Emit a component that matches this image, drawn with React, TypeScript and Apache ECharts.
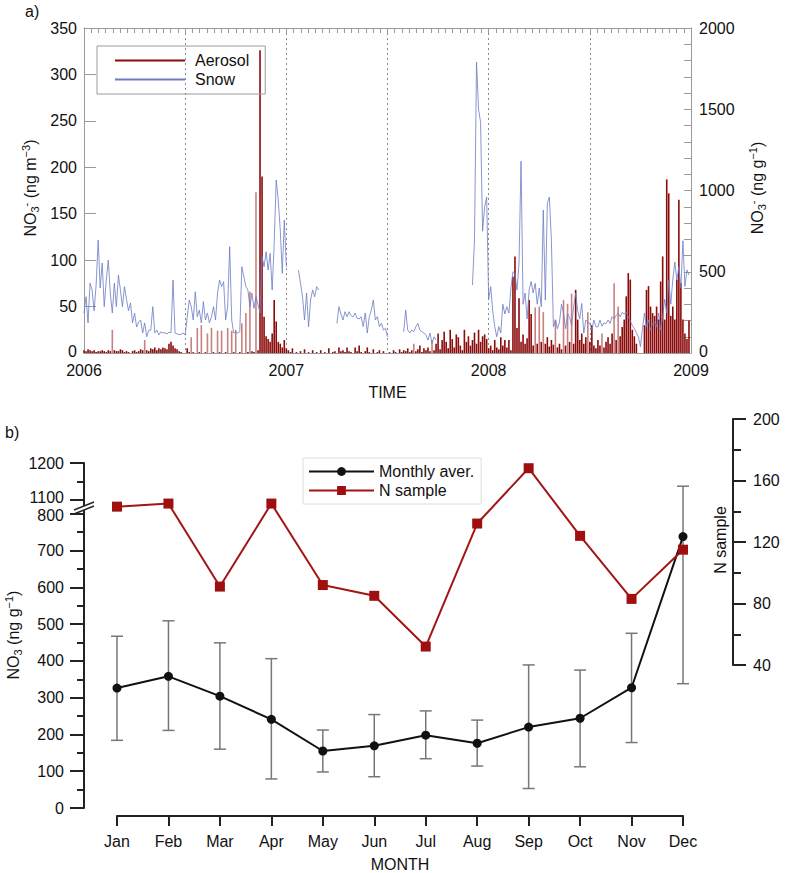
import { useEffect, useRef } from 'react'
import * as echarts from 'echarts'

// panel a: one value every 0.01 year, starting at Jan 1 of each year
const snow2006 = [
  246, 346, 185, 430, 388, 260, 420, 695, 400, 554,
  285, 449, 572, 369, 246, 430, 285, 480, 388, 285,
  408, 330, 260, 308, 185, 246, 160, 190, 203, 123,
  185, 100, 140, 141, 285, 123, 141, 111, 131, 123,
  125, 117, 128, 125, 449, 123, 117, 113, 115, 123,
  111, 220, 326, 285, 203, 377, 223, 264, 185, 316,
  203, 246, 185, 223, 285, 203, 369, 449, 408, 439,
  203, 285, 654, 203, 123, 128, 123, 131, 531, 470,
  408, 388, 285, 369, 275, 346, 300, 246, 593, 531,
  623, 511, 613, 388, 675, 1065, 942, 757, 490, 818,
]
const snow2007 = [
  530, null, null, null, null, null, 511, 429, 346, 203,
  369, 162, 326, 388, 346, 408, 388, null, null, null,
  null, null, null, null, null, 182, 285, 240, 203, 254,
  223, 254, 230, 223, 246, 213, 210, 223, 162, 246,
  123, 223, 264, 326, 203, 223, 162, 182, 141, 152,
  100, null, null, null, null, null, null, null, 130, 264,
  141, 123, 141, 131, 162, 182, 141, 131, 123, 111,
  80, 123, 60, 100, 80, null, null, null, null, null,
  null, null, null, null, null, null, null, null, null, null,
  null, null, 418, 700, 1790, 1500, 1420, 750, 900, 960,
]
const snow2008 = [
  330, 408, 260, 162, 100, 162, 123, 300, 240, 285,
  246, 400, 500, 490, 388, 554, 1180, 300, 369, 210,
  388, 440, 369, 429, 300, 400, 285, 880, 326, 921,
  960, 695, 162, 203, 150, 190, 300, 246, 150, 240,
  220, 170, 285, 369, 260, 210, 305, 123, 203, 190,
  182, 141, 203, 162, 160, 203, 165, 185, 180, 203,
  182, 223, 210, 230, 244, 223, 250, 240, 254, 223,
  195, 170, 150, 125, 100, 40, 150, 246, 162, 203,
  141, 182, 190, 162, 246, 141, 230, 330, 246, 449,
  300, 450, 560, 449, 531, 400, 690, 410, 511, 480,
]
const aerosol2006 = [
  3, 2, 4, 3, 2, 3, 1, 2, 2, 3,
  2, 1, 3, 2, 25, 3, 2, 2, 4, 3,
  1, 2, 1, 0, 2, 3, 1, 2, 4, 3,
  14, 3, 2, 5, 4, 6, 3, 5, 4, 6,
  5, 4, 10, 12, 8, 5, 4, 2, 1, 0,
  0, 5, 1, 17, 1, 0, 27, 1, 30, 0,
  1, 21, 0, 27, 1, 0, 24, 1, 24, 0,
  1, 27, 0, 24, 1, 25, 0, 1, 32, 0,
  43, 1, 66, 2, 1, 173, 3, 326, 190, 39,
  18, 15, 12, 21, 57, 34, 12, 10, 6, 14,
]
const aerosol2007 = [
  5, 3, 1, 5, 0, 1, 0, 2, 0, 4,
  0, 1, 0, 3, 0, 1, 0, 3, 0, 1,
  0, 5, 0, 1, 2, 0, 6, 2, 3, 1,
  6, 2, 1, 0, 6, 2, 8, 1, 0, 2,
  6, 1, 0, 4, 0, 1, 3, 0, 2, 0,
  0, 1, 0, 3, 1, 0, 4, 1, 3, 2,
  5, 1, 3, 10, 2, 4, 8, 1, 5, 3,
  6, 2, 14, 3, 10, 21, 4, 14, 23, 12,
  5, 25, 15, 6, 20, 17, 8, 3, 25, 12,
  18, 8, 14, 22, 10, 25, 12, 18, 20, 15,
]
const aerosol2008 = [
  5, 8, 3, 14, 6, 4, 17, 8, 14, 6,
  14, 3, 82, 104, 27, 59, 12, 20, 10, 16,
  57, 42, 8, 49, 10, 50, 12, 44, 10, 17,
  7, 14, 9, 36, 6, 10, 4, 57, 8, 53,
  12, 64, 10, 68, 36, 14, 21, 10, 17, 44,
  12, 30, 8, 5, 14, 8, 21, 6, 12, 17,
  10, 21, 75, 14, 50, 18, 28, 36, 61, 86,
  79, 25, 18, 10, 0, 0, 0, 30, 68, 72,
  50, 43, 40, 50, 36, 77, 104, 36, 187, 172,
  40, 50, 36, 79, 165, 75, 36, 21, 15, 35,
]

// panel b
const months = ['Jan', 'Feb', 'Mar', 'Apr', 'May', 'Jun', 'Jul', 'Aug', 'Sep', 'Oct', 'Nov', 'Dec']
const monthlyAvg = [326, 358, 304, 241, 155, 169, 198, 176, 220, 244, 327, 738]
const errLow = [184, 211, 160, 79, 98, 85, 134, 114, 53, 112, 178, 338]
const errHigh = [467, 509, 449, 406, 212, 254, 264, 239, 389, 375, 475, 1137]
const nSample = [143, 145, 91, 145, 92, 85, 52, 132, 168, 124, 83, 115]

const bTicks = [0, 100, 200, 300, 400, 500, 600, 700, 800, 1100, 1200]
const bMinorTicks = [50, 150, 250, 350, 450, 550, 650, 750, 1150]

// broken axis: 800..1100 squeezed into a small gap
const BREAK_FROM = 800
const BREAK_TO = 1100
const BREAK_GAP = 38
const toAxis = (v: number) => (v <= BREAK_FROM ? v : v - (BREAK_TO - BREAK_FROM) + BREAK_GAP)

const FONT = "'Liberation Sans', Arial, Helvetica, sans-serif"
const INK = '#111'
const FRAME = '#9a9a9a'
const AERO = '#8b0a0a'
const AERO_LIGHT = '#c98080'
const SNOW = '#6b7bc4'

export default function App() {
  const chartRef = useRef<HTMLDivElement>(null)

  useEffect(() => {
    if (!chartRef.current) return
    const chart = echarts.init(chartRef.current, null, { renderer: 'svg' })

    const aerosol = [...aerosol2006, ...aerosol2007, ...aerosol2008]
    const aerosolData = aerosol.map((v, i) => [2006 + i / 100, v])
    const snowData = [
      ...snow2006.map((v, i) => [2006 + i / 100, v ?? '-']),
      ...snow2007.map((v, i) => [2007 + i / 100, v ?? '-']),
      ...snow2008.map((v, i) => [2008 + i / 100, v ?? '-']),
    ]

    const bTickPos = bTicks.map(toAxis)
    const bMinorPos = bMinorTicks.map(toAxis)
    const errData = months.map((_, i) => [i, toAxis(errLow[i]), toAxis(errHigh[i])])

    const sub = { fontSize: 11, lineHeight: 12, verticalAlign: 'bottom', fill: INK, fontFamily: FONT }
    const sup = { fontSize: 11, lineHeight: 12, verticalAlign: 'top', fill: INK, fontFamily: FONT }
    const n = { fontSize: 16, lineHeight: 20, fill: INK, fontFamily: FONT }
    const rich = { n, s: sub, p: sup }

    const option: echarts.EChartsOption = {
      animation: false,
      backgroundColor: '#fff',
      textStyle: { fontFamily: FONT, color: INK },
      legend: [
        {
          data: [
            { name: 'Aerosol', icon: 'rect', itemStyle: { color: AERO } },
            { name: 'Snow', icon: 'rect', itemStyle: { color: SNOW } },
          ],
          orient: 'vertical',
          left: 97,
          top: 46,
          padding: [5, 16, 5, 18],
          itemGap: 0,
          itemWidth: 70,
          itemHeight: 2,
          borderColor: FRAME,
          borderWidth: 1,
          textStyle: { fontSize: 16, lineHeight: 19, color: INK, padding: [0, 0, 0, 5] },
          selectedMode: false,
        },
        {
          data: ['Monthly aver.', 'N sample'],
          orient: 'vertical',
          left: 303,
          top: 458,
          padding: [4, 7, 4, 5],
          itemGap: 0,
          itemWidth: 65,
          itemHeight: 11,
          borderColor: '#dcdcdc',
          borderWidth: 1,
          textStyle: { fontSize: 16, lineHeight: 19, color: INK },
          selectedMode: false,
        },
      ],
      grid: [
        { left: 84, top: 28, width: 607, height: 325 },
        { left: 117, top: 463, width: 566, height: 346 },
        { left: 117, top: 419, width: 566, height: 246 },
      ],
      xAxis: [
        {
          gridIndex: 0,
          type: 'value',
          min: 2006,
          max: 2009,
          interval: 0.5,
          position: 'bottom',
          axisLine: { onZero: false, lineStyle: { color: FRAME } },
          axisTick: { show: false },
          axisLabel: {
            margin: 9,
            fontSize: 16,
            color: INK,
            formatter: (v: number) => (Number.isInteger(v) ? String(v) : ''),
          },
          splitLine: { show: true, lineStyle: { color: '#8a8a8a', type: [2, 3], width: 1 } },
          name: 'TIME',
          nameLocation: 'middle',
          nameGap: 31,
          nameTextStyle: { fontSize: 16, color: INK },
        },
        {
          gridIndex: 0,
          type: 'value',
          min: 2006,
          max: 2009,
          interval: 0.5,
          position: 'top',
          axisLine: { onZero: false, lineStyle: { color: FRAME } },
          axisTick: { show: true, inside: true, length: 5, lineStyle: { color: FRAME } },
          minorTick: { show: true, splitNumber: 14, length: 5, lineStyle: { color: FRAME } },
          axisLabel: { show: false },
          splitLine: { show: false },
        },
        {
          gridIndex: 1,
          type: 'category',
          data: months,
          boundaryGap: false,
          offset: 8,
          axisLine: { onZero: false, lineStyle: { color: '#222', width: 2 } },
          axisTick: { show: true, length: 10, lineStyle: { color: '#222', width: 2 } },
          axisLabel: { interval: 0, margin: 17, fontSize: 16, color: INK },
          name: 'MONTH',
          nameLocation: 'middle',
          nameGap: 40,
          nameTextStyle: { fontSize: 16, color: INK },
        },
        {
          gridIndex: 2,
          type: 'category',
          data: months,
          boundaryGap: false,
          show: false,
        },
      ],
      yAxis: [
        {
          gridIndex: 0,
          type: 'value',
          position: 'left',
          min: 0,
          max: 350,
          interval: 50,
          axisLine: { show: true, lineStyle: { color: FRAME } },
          axisTick: { show: true, inside: true, length: 12, lineStyle: { color: FRAME } },
          axisLabel: {
            margin: 7,
            fontSize: 16,
            color: INK,
            formatter: (v: number) => (v === 0 ? '{lo|0}' : String(v)),
            rich: { lo: { fontSize: 16, padding: [0, 0, 4, 0] } },
          },
          splitLine: { show: false },
        },
        {
          gridIndex: 0,
          type: 'value',
          position: 'right',
          min: 0,
          max: 2000,
          interval: 500,
          axisLine: { show: true, lineStyle: { color: FRAME } },
          axisTick: { show: true, inside: true, length: 7, lineStyle: { color: FRAME } },
          minorTick: { show: true, splitNumber: 5, length: 7, lineStyle: { color: FRAME } },
          axisLabel: {
            margin: 8,
            fontSize: 16,
            color: INK,
            formatter: (v: number) => (v === 0 ? '{lo|0}' : String(v)),
            rich: { lo: { fontSize: 16, padding: [0, 0, 4, 0] } },
          },
          splitLine: { show: false },
        },
        {
          gridIndex: 1,
          type: 'value',
          position: 'left',
          min: 0,
          max: toAxis(1200),
          offset: 33,
          axisLine: { show: true, lineStyle: { color: '#222', width: 2 } },
          axisTick: { show: true, length: 14, customValues: bTickPos, lineStyle: { color: '#222', width: 2 } },
          axisLabel: {
            margin: 20,
            fontSize: 16,
            color: INK,
            customValues: bTickPos,
            formatter: (v: number) => {
              const i = bTickPos.findIndex((p) => Math.abs(p - v) < 0.5)
              if (i < 0) return ''
              const t = bTicks[i]
              if (t === BREAK_TO) return `{up|${t}}`
              if (t === BREAK_FROM) return `{dn|${t}}`
              return String(t)
            },
            rich: {
              up: { fontSize: 16, padding: [0, 0, 4, 0] },
              dn: { fontSize: 16, padding: [4, 0, 0, 0] },
            },
          },
          splitLine: { show: false },
        },
        {
          gridIndex: 1,
          type: 'value',
          position: 'left',
          min: 0,
          max: toAxis(1200),
          offset: 33,
          axisLine: { show: false },
          axisTick: { show: true, length: 7, customValues: bMinorPos, lineStyle: { color: '#222', width: 2 } },
          axisLabel: { show: false },
          splitLine: { show: false },
        },
        {
          gridIndex: 2,
          type: 'value',
          position: 'right',
          offset: 50,
          min: 40,
          max: 200,
          interval: 40,
          axisLine: { show: true, lineStyle: { color: '#222', width: 2 } },
          axisTick: { show: true, length: 13, lineStyle: { color: '#222', width: 2 } },
          minorTick: { show: true, splitNumber: 2, length: 8, lineStyle: { color: '#222', width: 2 } },
          axisLabel: { margin: 20, fontSize: 16, color: INK },
          splitLine: { show: false },
        },
      ],
      series: [
        {
          name: 'Aerosol',
          type: 'bar',
          xAxisIndex: 0,
          yAxisIndex: 0,
          data: aerosolData,
          barWidth: 1.6,
          itemStyle: {
            color: (p: any) => {
              const i = p.dataIndex
              const v = aerosol[i]
              const nb = Math.max(aerosol[i - 1] ?? 0, aerosol[i + 1] ?? 0)
              return v > 8 && v > 2.5 * nb ? AERO_LIGHT : AERO
            },
          },
          silent: true,
        },
        {
          name: 'Snow',
          type: 'line',
          xAxisIndex: 0,
          yAxisIndex: 1,
          data: snowData,
          symbol: 'none',
          connectNulls: false,
          lineStyle: { color: SNOW, width: 0.8 },
          itemStyle: { color: SNOW },
          silent: true,
        },
        {
          name: 'error',
          type: 'custom',
          xAxisIndex: 2,
          yAxisIndex: 2,
          data: errData,
          encode: { x: 0, y: [1, 2] },
          renderItem: (_params: any, api: any) => {
            const x = api.value(0)
            const top = api.coord([x, api.value(2)])
            const bot = api.coord([x, api.value(1)])
            const w = 6
            const style = { stroke: '#777', lineWidth: 1.5 }
            return {
              type: 'group',
              children: [
                { type: 'line', shape: { x1: top[0], y1: top[1], x2: bot[0], y2: bot[1] }, style },
                { type: 'line', shape: { x1: top[0] - w, y1: top[1], x2: top[0] + w, y2: top[1] }, style },
                { type: 'line', shape: { x1: bot[0] - w, y1: bot[1], x2: bot[0] + w, y2: bot[1] }, style },
              ],
            }
          },
          z: 2,
          silent: true,
        },
        {
          name: 'Monthly aver.',
          type: 'line',
          xAxisIndex: 2,
          yAxisIndex: 2,
          data: monthlyAvg.map(toAxis),
          symbol: 'circle',
          symbolSize: 9,
          lineStyle: { color: INK, width: 2 },
          itemStyle: { color: INK },
          z: 3,
        },
        {
          name: 'N sample',
          type: 'line',
          xAxisIndex: 3,
          yAxisIndex: 4,
          data: nSample,
          symbol: 'rect',
          symbolSize: 10,
          lineStyle: { color: '#a31515', width: 2 },
          itemStyle: { color: '#a00f0f' },
          z: 3,
        },
      ],
      graphic: [
        { type: 'text', x: 25, y: 11, style: { text: 'a)', fontSize: 16, fontFamily: FONT, fill: INK, verticalAlign: 'middle' } },
        { type: 'text', x: 5, y: 432, style: { text: 'b)', fontSize: 16, fontFamily: FONT, fill: INK, verticalAlign: 'middle' } },
        {
          type: 'text',
          x: 30,
          y: 188,
          rotation: Math.PI / 2,
          style: { text: '{n|NO}{s|3}{p|-}{n| (ng m}{p|−3}{n|)}', rich, align: 'center', verticalAlign: 'middle' },
        },
        {
          type: 'text',
          x: 757,
          y: 188,
          rotation: Math.PI / 2,
          style: { text: '{n|NO}{s|3}{p|-}{n| (ng g}{p|−1}{n|)}', rich, align: 'center', verticalAlign: 'middle' },
        },
        {
          type: 'text',
          x: 13,
          y: 635,
          rotation: Math.PI / 2,
          style: { text: '{n|NO}{s|3}{n| (ng g}{p|−1}{n|)}', rich, align: 'center', verticalAlign: 'middle' },
        },
        {
          type: 'text',
          x: 720,
          y: 540,
          rotation: Math.PI / 2,
          style: { text: 'N sample', fontSize: 16, fontFamily: FONT, fill: INK, align: 'center', verticalAlign: 'middle' },
        },
        // axis break mark
        {
          type: 'polygon',
          z: 100,
          shape: { points: [[74, 510], [94, 502], [94, 506], [74, 514]] },
          style: { fill: '#fff' },
        },
        { type: 'line', z: 101, shape: { x1: 74, y1: 510, x2: 94, y2: 502 }, style: { stroke: '#222', lineWidth: 1.5 } },
        { type: 'line', z: 101, shape: { x1: 74, y1: 514, x2: 94, y2: 506 }, style: { stroke: '#222', lineWidth: 1.5 } },
      ],
    }

    chart.setOption(option)
    return () => {
      chart.dispose()
    }
  }, [])

  return (
    <div
      ref={chartRef}
      style={{ position: 'fixed', left: 0, top: 0, width: 785, height: 873, background: '#fff' }}
    />
  )
}
